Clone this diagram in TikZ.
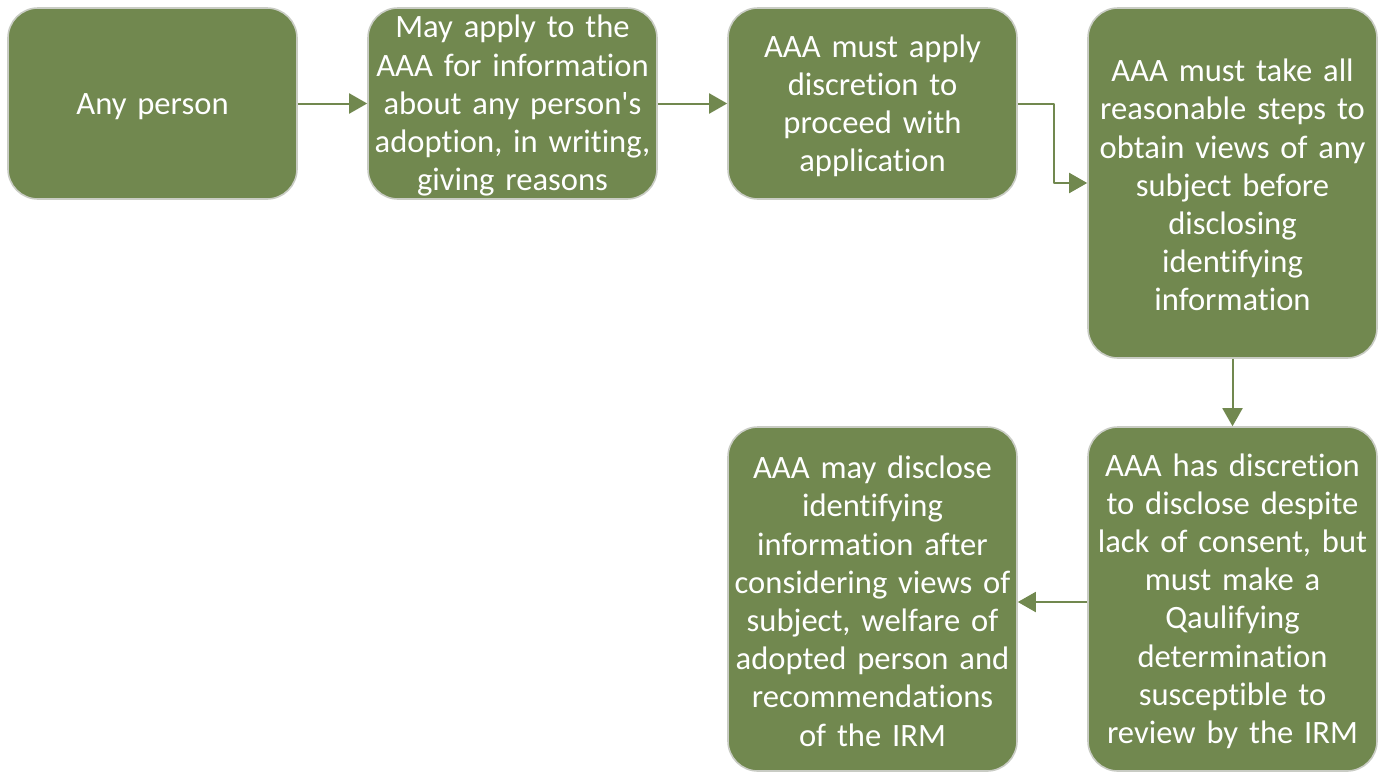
\documentclass[tikz,border=0pt]{standalone}
\usepackage{fontspec}
\setmainfont{Carlito}[Ligatures=NoCommon]
\usetikzlibrary{arrows.meta}
\definecolor{boxgreen}{HTML}{71884F}
\definecolor{boxline}{HTML}{C9CCC4}
\begin{document}
\begin{tikzpicture}[x=0.5pt,y=-0.5pt,line cap=round,line join=round,>={Triangle[length=9pt,width=10pt]},
      flowbox/.style={draw=boxline,line width=0.8pt,fill=boxgreen,rounded corners=15pt,text=white,
        text width=138pt,align=center,minimum width=144.5pt,inner sep=0pt,
        font=\fontsize{16.3}{19.1}\selectfont,execute at begin node={\rule{0pt}{13.5pt}}},
      link/.style={->,draw=boxgreen,line width=1pt,line cap=butt}]
      \useasboundingbox (0,0) rectangle (1387,772);
      \node[flowbox,minimum height=95.5pt] (person) at (152.5,103.5) {Any person};
      \node[flowbox,minimum height=95.5pt] (apply) at (512.5,103.5) {May apply to the\\AAA for information\\about any person\textquotesingle s\\adoption, in writing,\\giving reasons};
      \node[flowbox,minimum height=95.5pt] (discretion) at (872.5,103.5) {AAA must apply\\discretion to\\proceed with\\application};
      \node[flowbox,minimum height=175pt] (steps) at (1232.5,183) {AAA must take all\\reasonable steps to\\obtain views of any\\subject before\\disclosing\\identifying\\information};
      \node[flowbox,minimum height=172pt] (despite) at (1232.5,599) {AAA has discretion\\to disclose despite\\lack of consent, but\\must make a\\Qaulifying\\determination\\susceptible to\\review by the IRM};
      \node[flowbox,minimum height=172pt] (disclose) at (872.5,599) {AAA may disclose\\identifying\\information after\\considering views of\\subject, welfare of\\adopted person and\\recommendations\\of the IRM};
      \draw[link] (person) -- (apply);
      \draw[link] (apply) -- (discretion);
      \draw[link] (discretion.east) -- ++(36,0) |- (steps.west);
      \draw[link] (steps) -- (despite);
      \draw[link] (despite.west) ++(0,3) -- (disclose.east |- 0,602);
    \end{tikzpicture}
\end{document}
